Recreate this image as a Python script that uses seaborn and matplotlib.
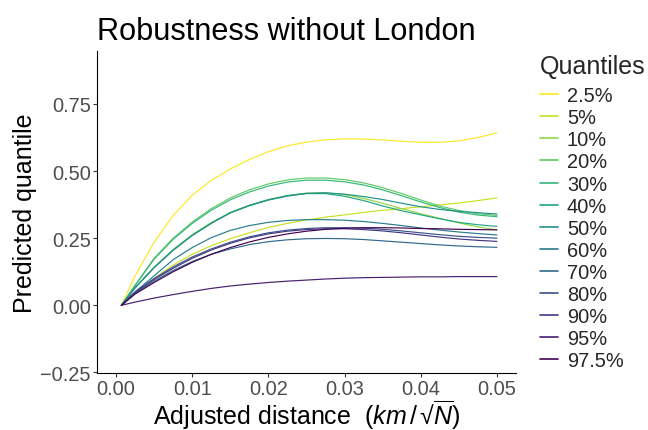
import numpy as np
import pandas as pd
import matplotlib
matplotlib.use("Agg")
import matplotlib.pyplot as plt
import seaborn as sns

# Adjusted distance grid (km / sqrt(N))
distance = [0.0007, 0.0025, 0.005, 0.0075, 0.01, 0.0125, 0.015, 0.0175, 0.02,
            0.0225, 0.025, 0.0275, 0.03, 0.0325, 0.035, 0.0375, 0.04, 0.0425,
            0.045, 0.0475, 0.05]

quantile_labels = ["2.5%", "5%", "10%", "20%", "30%", "40%", "50%",
                   "60%", "70%", "80%", "90%", "95%", "97.5%"]

# Predicted quantile curves
q025 = [0, 0.11, 0.235, 0.335, 0.41, 0.465, 0.508, 0.543, 0.572, 0.594, 0.608,
        0.616, 0.62, 0.619, 0.616, 0.611, 0.607, 0.607, 0.612, 0.625, 0.642]
q050 = [0, 0.045, 0.1, 0.15, 0.19, 0.222, 0.248, 0.27, 0.29, 0.305, 0.318,
        0.328, 0.337, 0.346, 0.354, 0.36, 0.367, 0.374, 0.381, 0.39, 0.40]
q100 = [0, 0.066, 0.142, 0.208, 0.263, 0.308, 0.346, 0.373, 0.394, 0.409, 0.418,
        0.419, 0.412, 0.398, 0.38, 0.36, 0.341, 0.324, 0.307, 0.292, 0.281]
q200 = [0, 0.075, 0.175, 0.25, 0.31, 0.36, 0.4, 0.43, 0.452, 0.467, 0.474,
        0.474, 0.468, 0.456, 0.438, 0.416, 0.392, 0.37, 0.353, 0.341, 0.335]
q300 = [0, 0.074, 0.172, 0.246, 0.305, 0.354, 0.393, 0.422, 0.444, 0.459, 0.466,
        0.466, 0.46, 0.448, 0.43, 0.408, 0.385, 0.364, 0.347, 0.336, 0.33]
q400 = [0, 0.066, 0.141, 0.206, 0.261, 0.306, 0.344, 0.371, 0.392, 0.407, 0.416,
        0.416, 0.406, 0.39, 0.37, 0.352, 0.337, 0.322, 0.309, 0.3, 0.294]
q500 = [0, 0.065, 0.14, 0.205, 0.26, 0.305, 0.345, 0.372, 0.393, 0.408, 0.417,
        0.419, 0.414, 0.405, 0.394, 0.38, 0.367, 0.357, 0.35, 0.345, 0.34]
q600 = [0, 0.05, 0.11, 0.17, 0.215, 0.252, 0.279, 0.297, 0.309, 0.316, 0.319,
        0.319, 0.317, 0.312, 0.305, 0.297, 0.288, 0.28, 0.273, 0.267, 0.262]
q700 = [0, 0.045, 0.09, 0.13, 0.163, 0.19, 0.21, 0.226, 0.237, 0.244, 0.248,
        0.249, 0.248, 0.245, 0.24, 0.235, 0.23, 0.225, 0.221, 0.218, 0.216]
q800 = [0, 0.05, 0.1, 0.143, 0.18, 0.21, 0.235, 0.255, 0.27, 0.28, 0.286,
        0.289, 0.289, 0.287, 0.283, 0.277, 0.27, 0.263, 0.257, 0.253, 0.25]
q900 = [0, 0.048, 0.096, 0.138, 0.175, 0.206, 0.231, 0.251, 0.266, 0.276, 0.282,
        0.285, 0.285, 0.282, 0.277, 0.27, 0.262, 0.254, 0.247, 0.242, 0.238]
q950 = [0, 0.012, 0.027, 0.04, 0.052, 0.063, 0.072, 0.079, 0.085, 0.09, 0.094,
        0.098, 0.101, 0.103, 0.104, 0.105, 0.106, 0.106, 0.107, 0.107, 0.107]
q975 = [0, 0.042, 0.085, 0.125, 0.16, 0.19, 0.215, 0.236, 0.253, 0.266, 0.276,
        0.283, 0.287, 0.289, 0.289, 0.288, 0.286, 0.285, 0.283, 0.282, 0.281]

curves = [q025, q050, q100, q200, q300, q400, q500, q600, q700, q800, q900,
          q950, q975]

x_ticks = [0.00, 0.01, 0.02, 0.03, 0.04, 0.05]
y_ticks = [-0.25, 0.00, 0.25, 0.50, 0.75]

rows = []
for label, values in zip(quantile_labels, curves):
    for d, v in zip(distance, values):
        rows.append({"distance": d, "value": v, "Quantiles": label})
df = pd.DataFrame(rows)

sns.set_theme(style="ticks")
plt.rcParams["font.family"] = ["Liberation Sans", "DejaVu Sans"]
plt.rcParams["mathtext.fontset"] = "custom"
plt.rcParams["mathtext.rm"] = "Liberation Sans"
plt.rcParams["mathtext.it"] = "Liberation Sans:italic"

# Full viridis range, yellow for the lowest quantile label
viridis = sns.color_palette("viridis", as_cmap=True)
palette = [viridis(t) for t in np.linspace(1, 0, len(quantile_labels))]

W, H = 648, 431
fig = plt.figure(figsize=(W / 100, H / 100), dpi=100)
ax_bottom, ax_top = 374, 52
ax = fig.add_axes([97 / W, (H - ax_bottom) / H, (516 - 97) / W,
                   (ax_bottom - ax_top) / H])

sns.lineplot(data=df, x="distance", y="value", hue="Quantiles",
             hue_order=quantile_labels, palette=palette, linewidth=0.85,
             estimator=None, sort=False, ax=ax)

ax.set_xlim(-0.0025, 0.0525)
ax.set_ylim(-0.252, 0.947)
ax.set_xticks(x_ticks)
ax.set_xticklabels([f"{t:.2f}" for t in x_ticks])
ax.set_yticks(y_ticks)
ax.set_yticklabels([f"{t:.2f}".replace("-", "\u2212") for t in y_ticks])

for side in ("top", "right"):
    ax.spines[side].set_visible(False)
for side in ("left", "bottom"):
    ax.spines[side].set_color("black")
    ax.spines[side].set_linewidth(0.8)
ax.tick_params(axis="both", length=3, width=0.8, color="#333333",
               labelsize=14.4, labelcolor="#4D4D4D", pad=1.5)

# x title sits on a fixed baseline below the tick labels
xlab = ax.set_xlabel("Adjusted distance  $(km\\,/\\,\u221a\\overline{N})$",
                     fontsize=18, color="black")
xlab.set_va("baseline")
ax.xaxis.set_label_coords(0.5, (ax_bottom - 425.5) / (ax_bottom - ax_top))
ax.set_ylabel("Predicted quantile", fontsize=18, color="black", labelpad=2.5)
ax.set_title("Robustness without London", loc="left", fontsize=22.1,
             color="black", pad=9)

sns.move_legend(ax, "upper left", bbox_to_anchor=(1.038, 1.016),
                frameon=False, title="Quantiles", fontsize=14.4,
                title_fontsize=18, handlelength=0.9, handletextpad=0.45,
                labelspacing=0.155, alignment="left", borderaxespad=0)
leg = ax.get_legend()
leg._legend_box.sep = 6
for line in leg.get_lines():
    line.set_linewidth(1.2)

fig.savefig("out.png", dpi=100)
